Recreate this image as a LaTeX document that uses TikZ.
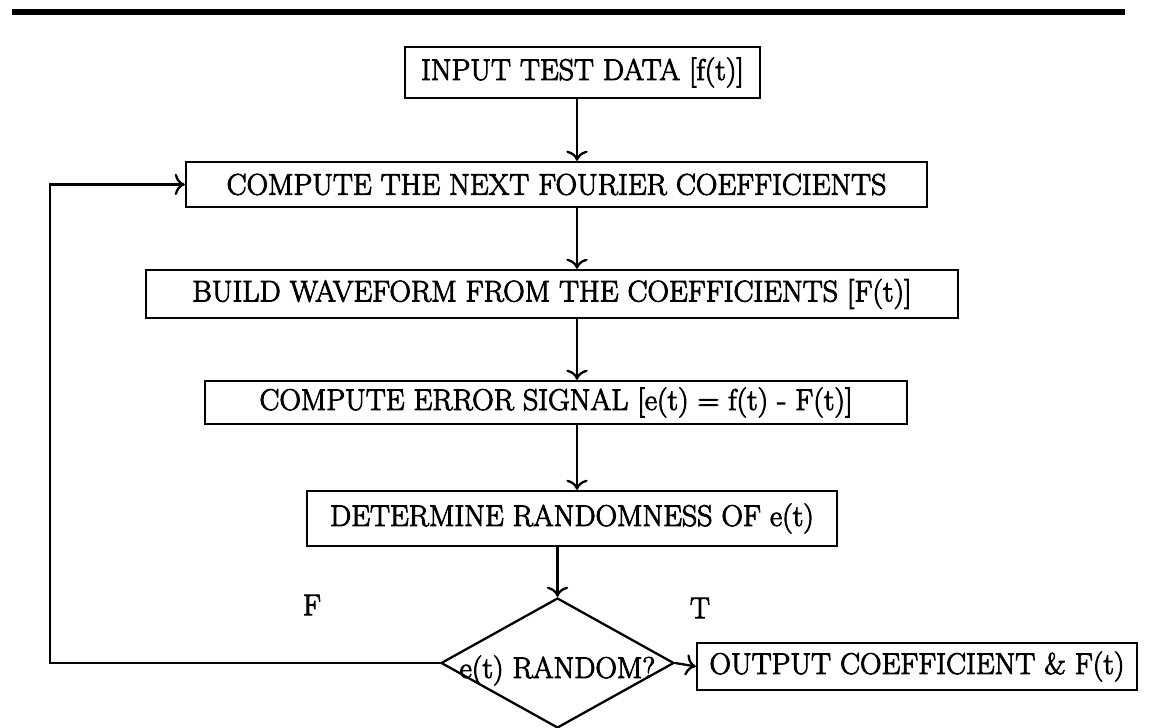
\documentclass[tikz,border=0pt]{standalone}
\usepackage{fontspec}
\newfontfamily\flowfont[FakeBold=3]{Latin Modern Roman}
\usetikzlibrary{shapes.geometric,arrows.meta}
\begin{document}
\begin{tikzpicture}[line width=1.3pt, >={To[scale=1.3]},
  every node/.style={font=\fontsize{17}{20}\flowfont},
  procbox/.style={draw, rectangle, inner sep=0pt},
  testshape/.style={draw, diamond, inner sep=0pt, minimum width=4.66cm, minimum height=2.6cm}]
\useasboundingbox (0,0) rectangle (23.12,14.56);
%%rule
\draw[line width=3.2pt] (0.24,14.32) -- (22.5,14.32);
%%Boxes
\node[procbox, minimum width=7.1cm, minimum height=1.02cm] (input) at (11.65,13.11) {INPUT TEST DATA [f(t)]};
\node[procbox, minimum width=14.82cm, minimum height=0.9cm] (coef) at (11.13,10.87) {COMPUTE THE NEXT FOURIER COEFFICIENTS};
\node[procbox, minimum width=16.24cm, minimum height=0.96cm] (wave) at (11.04,8.68) {BUILD WAVEFORM FROM THE COEFFICIENTS [F(t)]};
\node[procbox, minimum width=14.04cm, minimum height=0.86cm] (err) at (11.12,6.51) {COMPUTE ERROR SIGNAL [e(t) = f(t) - F(t)]};
\node[procbox, minimum width=10.6cm, minimum height=1.1cm] (rand) at (11.44,4.19) {DETERMINE RANDOMNESS OF e(t)};
\node[testshape] (test) at (11.15,1.3) {};
\node (testtext) at ([yshift=-0.15cm]test.center) {e(t) RANDOM?};
\node[procbox, minimum width=8.8cm, minimum height=0.94cm] (out) at (18.34,1.23) {OUTPUT COEFFICIENT \& F(t)};
%%Label
\node (tlabel) at (14.0,2.4) {T};
\node (flabel) at (6.24,2.46) {F};
%%Arrows
\coordinate (spine) at (11.54,0);
\coordinate (loop) at (1.0,0);
\draw[->] (input.south -| spine) -- (coef.north -| spine);
\draw[->] (coef.south -| spine) -- (wave.north -| spine);
\draw[->] (wave.south -| spine) -- (err.north -| spine);
\draw[->] (err.south -| spine) -- (rand.north -| spine);
\draw[->] (rand.south -| test.north) -- (test.north);
\draw[->] (test.east) -- (out.west);
\draw[->] (test.west) -| (loop |- coef.west) -- (coef.west);
\end{tikzpicture}
\end{document}
